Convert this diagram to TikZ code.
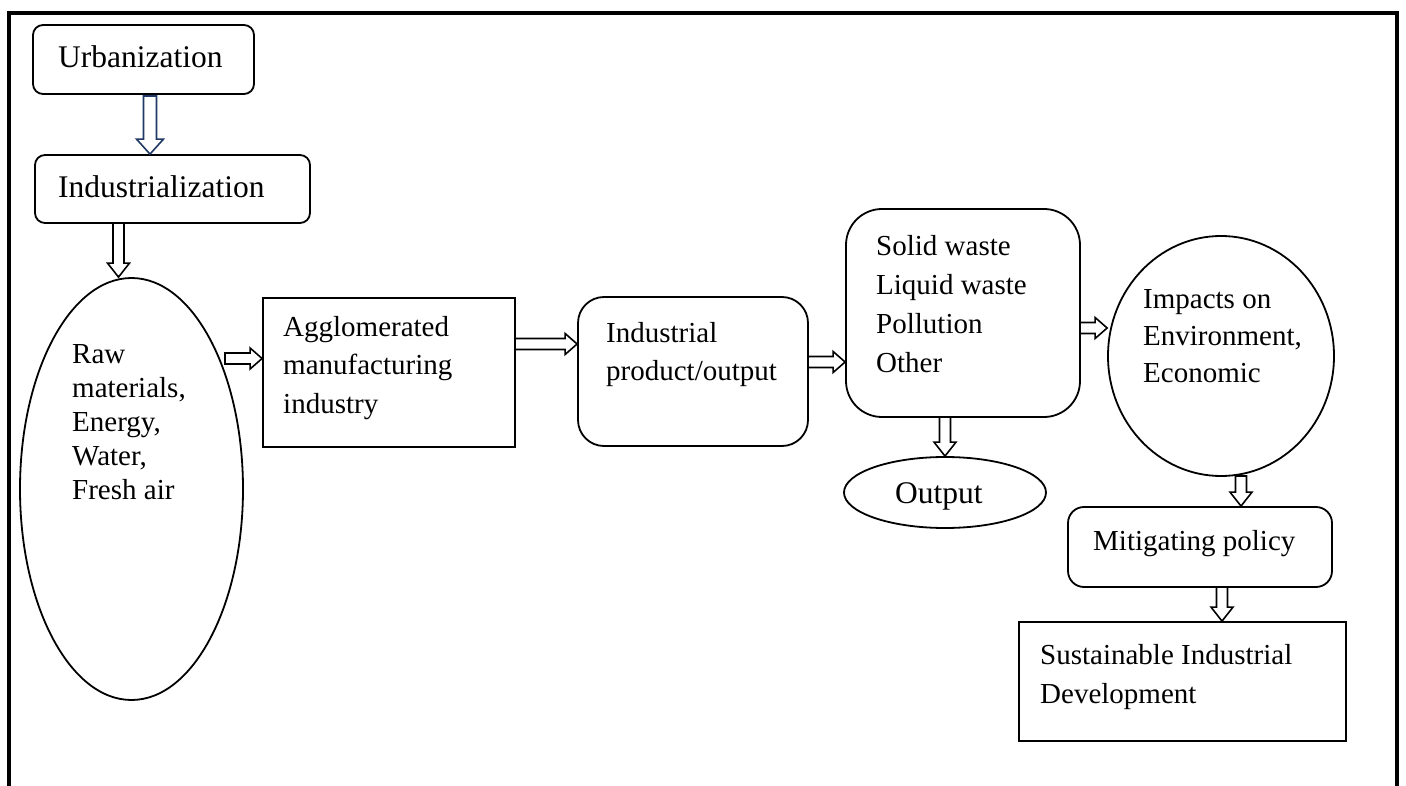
\documentclass[tikz,border=0pt]{standalone}
\usepackage{fontspec}
\setmainfont{Liberation Serif}
\usetikzlibrary{shapes.geometric,calc}
\definecolor{navy}{RGB}{31,56,100}
\tikzset{
  shp/.style={draw, line width=1.8pt, inner sep=0pt},
  rbox/.style={shp, rectangle},
  ell/.style={shp, ellipse},
  txt/.style={anchor=base west, inner sep=0pt, align=left, font=\fontsize{29}{38.5}\selectfont},
  bigtxt/.style={txt, font=\fontsize{31.5}{38.5}\selectfont},
  varr/.style n args={3}{to path={let \p1=(\tikztostart),\p2=(\tikztotarget) in
    (\x1-#1,\y1) -- (\x1-#1,\y2+#3) -- (\x1-#2,\y2+#3) -- (\x1,\y2) -- (\x1+#2,\y2+#3) -- (\x1+#1,\y2+#3) -- (\x1+#1,\y1) -- cycle}},
  harr/.style n args={3}{to path={let \p1=(\tikztostart),\p2=(\tikztotarget) in
    (\x1,\y1-#1) -- (\x2-#3,\y1-#1) -- (\x2-#3,\y1-#2) -- (\x2,\y1) -- (\x2-#3,\y1+#2) -- (\x2-#3,\y1+#1) -- (\x1,\y1+#1) -- cycle}},
  arr/.style={draw, fill=white, line width=1.6pt, line join=miter},
  downarr/.style={arr, varr={5.5pt}{11pt}{14pt}},
  rightarr/.style={arr, harr={5.5pt}{10.5pt}{12pt}},
  bluearr/.style={arr, draw=navy, varr={6.5pt}{13.5pt}{15pt}},
}
\begin{document}
\begin{tikzpicture}[x=1pt,y=-1pt]
\useasboundingbox (0,0) rectangle (1406,786);
% outer frame (open at the bottom)
\draw[line width=4pt, line join=miter] (9,786) -- (9,13) -- (1397,13) -- (1397,786);

% shapes
\node[rbox, rounded corners=10pt, minimum width=221pt, minimum height=69pt] (urb) at (143.5,59.5) {};
\node[rbox, rounded corners=10pt, minimum width=275pt, minimum height=68pt] (ind) at (172.5,189) {};
\node[ell, minimum width=223pt, minimum height=422pt] (raw) at (131.5,489) {};
\node[rbox, minimum width=252pt, minimum height=149pt] (agg) at (389,372.5) {};
\node[rbox, rounded corners=26pt, minimum width=230pt, minimum height=149pt] (prod) at (693,371.5) {};
\node[rbox, rounded corners=36pt, minimum width=234pt, minimum height=208pt] (waste) at (963,313) {};
\node[ell, minimum width=202pt, minimum height=71pt] (out) at (945,492.5) {};
\node[ell, minimum width=226pt, minimum height=240pt] (imp) at (1221,356) {};
\node[rbox, rounded corners=16pt, minimum width=264pt, minimum height=80pt] (mit) at (1200,547) {};
\node[rbox, minimum width=327pt, minimum height=119pt] (sust) at (1182.5,681.5) {};

% texts (anchor = baseline of the last line)
\node[bigtxt] (urbt) at (58,68) {Urbanization};
\node[bigtxt] (indt) at (58,198) {Industrialization};
\node[txt, font=\fontsize{29}{34}\selectfont] (rawt) at (72,499) {Raw\\materials,\\Energy,\\Water,\\Fresh air};
\node[txt] (aggt) at (283,413) {Agglomerated\\manufacturing\\industry};
\node[txt, font=\fontsize{29}{39}\selectfont] (prodt) at (606,381) {Industrial\\product/output};
\node[txt, font=\fontsize{29}{38.7}\selectfont] (wastet) at (876,372) {Solid waste\\Liquid waste\\Pollution\\Other};
\node[txt, font=\fontsize{29}{37}\selectfont] (impt) at (1143,382) {Impacts on\\Environment,\\Economic};
\node[bigtxt] (outt) at (895,503) {Output};
\node[txt] (mitt) at (1093,550) {Mitigating policy};
\node[txt] (sustt) at (1040,703) {Sustainable Industrial\\Development};

% connector start points
\coordinate (c1) at (150,96);
\coordinate (c2) at (118.5,223);
\coordinate (c3) at (225,358.5);
\coordinate (c4) at (515,344);
\coordinate (c5) at (808,362);
\coordinate (c6) at (1080,328);
\coordinate (c7) at (945,417);
\coordinate (c8) at (1241,476);
\coordinate (c9) at (1222,587);

% block arrows
\draw[bluearr] (c1) to (c1 |- ind.north);
\draw[downarr] (c2) to (c2 |- raw.north);
\draw[rightarr] (c3) to (c3 -| agg.west);
\draw[rightarr] (c4) to (c4 -| prod.west);
\draw[rightarr] (c5) to (c5 -| waste.west);
\draw[rightarr] (c6) to (c6 -| imp.west);
\draw[downarr] (c7) to (c7 |- out.north);
\draw[downarr] (c8) to (c8 |- mit.north);
\draw[downarr] (c9) to (c9 |- sust.north);
\end{tikzpicture}
\end{document}
